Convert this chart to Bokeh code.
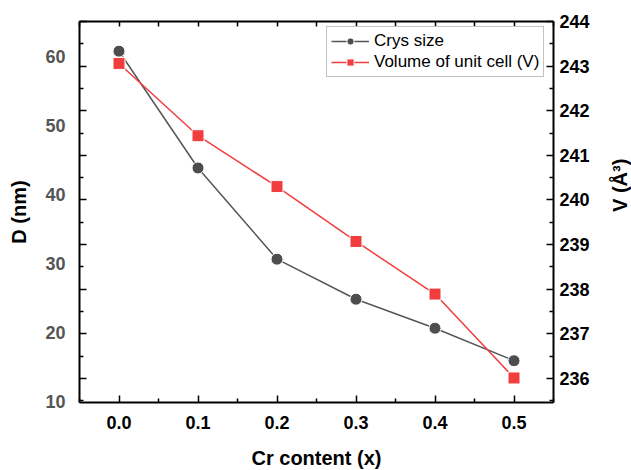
import math
from bokeh.plotting import figure
from bokeh.models import Range1d, LinearAxis, FixedTicker, Legend, LegendItem, PrintfTickFormatter, Grid
from bokeh.embed import file_html
from bokeh.resources import INLINE

# ---- data ----
cr_content = [0.0, 0.1, 0.2, 0.3, 0.4, 0.5]
crys_size = [60.7, 43.8, 30.6, 24.8, 20.6, 15.9]
cell_volume = [243.06, 241.44, 240.30, 239.07, 237.89, 236.01]
d_ticks = [10, 20, 30, 40, 50, 60]
v_ticks = [236, 237, 238, 239, 240, 241, 242, 243, 244]
v_minor = [235.5, 236.5, 237.5, 238.5, 239.5, 240.5, 241.5, 242.5, 243.5]
x_ticks = [0.0, 0.1, 0.2, 0.3, 0.4, 0.5]
x_minor = [-0.05, 0.05, 0.15, 0.25, 0.35, 0.45, 0.55]

FONT = "Liberation Sans"
GRAY = "#4d4d4d"
RED = "#f23d3f"

p = figure(frame_width=474, frame_height=381, output_backend="svg", toolbar_location=None,
           x_range=Range1d(-0.05, 0.55), y_range=Range1d(9.85, 65.0),
           x_axis_location=None, y_axis_location=None,
           min_border_left=79, min_border_right=77, min_border_top=21, min_border_bottom=60)
p.extra_y_ranges = {"V": Range1d(235.46, 244.0)}
p.outline_line_color = None
p.background_fill_color = "white"
p.border_fill_color = "white"


def style(ax, tick_len=7, minor_len=4):
    ax.axis_line_width = 2
    ax.axis_line_color = "black"
    ax.major_tick_in = tick_len
    ax.major_tick_out = 0
    ax.minor_tick_in = minor_len
    ax.minor_tick_out = 0
    ax.major_tick_line_width = 1.5
    ax.minor_tick_line_width = 1.5
    ax.major_label_text_font = FONT
    ax.major_label_text_font_style = "bold"
    ax.major_label_text_font_size = "18px"
    ax.major_label_text_color = "black"
    ax.axis_label_text_font = FONT
    ax.axis_label_text_font_style = "bold"
    ax.axis_label_text_font_size = "20px"
    ax.axis_label_text_color = "black"


def hide_labels(ax, ticks):
    ax.major_label_overrides = {t: "" for t in ticks}
    ax.major_label_text_font_size = "8px"
    ax.major_label_standoff = 0


# left: tick marks (mirroring the right scale) without labels
left_ticks = LinearAxis(y_range_name="V", ticker=FixedTicker(ticks=v_ticks, minor_ticks=v_minor))
style(left_ticks)
hide_labels(left_ticks, v_ticks)
p.add_layout(left_ticks, "left")

# left: D labels
left_lab = LinearAxis(ticker=FixedTicker(ticks=d_ticks), axis_label="D (nm)")
style(left_lab)
left_lab.axis_line_color = None
left_lab.major_tick_in = 0
left_lab.minor_tick_in = 0
left_lab.major_tick_line_color = None
left_lab.minor_tick_line_color = None
left_lab.major_label_text_color = "#555555"
left_lab.major_label_standoff = 14
left_lab.axis_label_standoff = 12
p.add_layout(left_lab, "left")

# right axis
right = LinearAxis(y_range_name="V", ticker=FixedTicker(ticks=v_ticks, minor_ticks=v_minor),
                   axis_label="V (Å³)")
style(right)
right.major_label_standoff = 6
right.axis_label_standoff = 27
if "axis_label_orientation" in right.properties():
    right.axis_label_orientation = math.pi / 2
p.add_layout(right, "right")

# bottom axis
bottom = LinearAxis(ticker=FixedTicker(ticks=x_ticks, minor_ticks=x_minor),
                    axis_label="Cr content (x)", formatter=PrintfTickFormatter(format="%.1f"))
style(bottom)
bottom.major_label_standoff = 13
bottom.axis_label_standoff = 15
p.add_layout(bottom, "below")

# top axis (ticks only)
top = LinearAxis(ticker=FixedTicker(ticks=x_ticks, minor_ticks=x_minor))
style(top, tick_len=5, minor_len=5)
hide_labels(top, x_ticks)
p.add_layout(top, "above")

# no grid lines
p.center = [c for c in p.center if not isinstance(c, Grid)]

# data
l1 = p.line(cr_content, crys_size, line_color="#555555", line_width=1.5)
s1 = p.scatter(cr_content, crys_size, marker="circle", size=12, fill_color=GRAY,
               line_color="#ffffff", line_width=1)
l2 = p.line(cr_content, cell_volume, y_range_name="V", line_color=RED, line_width=1.5)
s2 = p.scatter(cr_content, cell_volume, y_range_name="V", marker="square", size=12,
               fill_color=RED, line_color="#ffffff", line_width=1)

legend = Legend(items=[LegendItem(label="Crys size", renderers=[l1, s1]),
                       LegendItem(label="Volume of unit cell (V)", renderers=[l2, s2])],
                location=(247, 325))
legend.label_text_font = FONT
legend.label_text_font_size = "17px"
legend.label_text_color = "black"
legend.glyph_width = 38
legend.glyph_height = 18
legend.label_height = 18
legend.label_standoff = 5
legend.spacing = 1
legend.padding = 4
legend.margin = 0
legend.border_line_color = "#888888"
legend.border_line_width = 1
legend.background_fill_alpha = 1
p.add_layout(legend)

open("out.html", "w").write(file_html(p, INLINE))
